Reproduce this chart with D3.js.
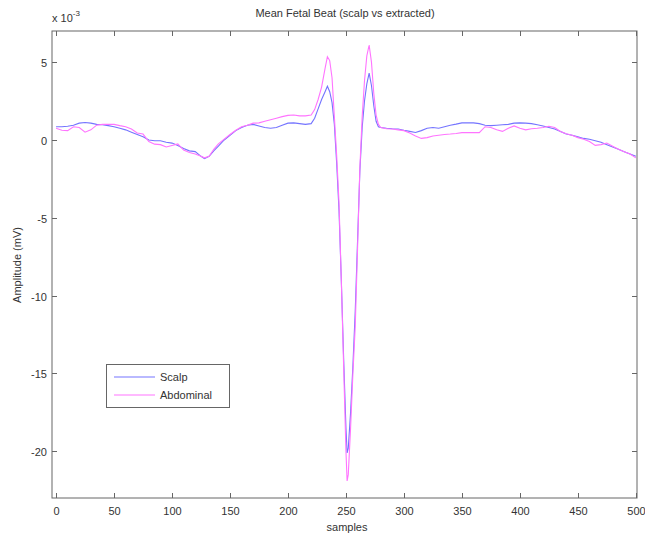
<!DOCTYPE html>
<html>
<head>
<meta charset="utf-8">
<script src="https://cdn.jsdelivr.net/npm/d3@7"></script>
<style>
  body { margin: 0; background: #fff; }
  text { font-family: "Liberation Sans", Arial, sans-serif; fill: #333; }
</style>
</head>
<body>
<svg id="viz" width="645" height="536"></svg>
<script>
// Mean fetal beat: scalp electrode vs extracted (abdominal) beat
// values are in units of 1e-3 mV

const samples = [0,5,10,15,20,25,30,35,40,45,50,55,60,65,70,75,80,85,90,95,
  100,105,110,115,120,125,128,132,136,140,145,150,155,160,165,170,175,180,185,190,
  195,200,205,210,215,220,223,226,229,232,234,236,238,240,242,244,246,248,250,251,
  252,254,256,258,260,262,264,266,268,270,272,274,276,278,280,285,290,295,300,305,
  310,315,320,325,330,335,340,345,350,355,360,365,370,375,380,385,390,395,400,405,
  410,415,420,425,430,435,440,445,450,455,460,465,470,475,480,485,490,495,500];

const scalp = [0.85,0.85,0.88,0.95,1.08,1.12,1.08,1.0,0.98,0.92,0.85,0.75,0.65,0.5,0.35,0.2,0.0,-0.05,-0.05,-0.15,
  -0.2,-0.35,-0.55,-0.7,-0.75,-1.05,-1.2,-1.05,-0.7,-0.4,0.0,0.3,0.6,0.8,0.95,1.0,0.9,0.8,0.75,0.8,
  0.95,1.08,1.1,1.05,1.0,1.05,1.4,2.0,2.6,3.1,3.45,3.1,2.4,1.0,-1.5,-4.5,-9.0,-14.0,-18.5,-20.1,
  -19.8,-17.5,-14.5,-11.0,-6.5,-2.0,0.8,2.5,3.6,4.3,3.5,2.2,1.2,0.85,0.8,0.75,0.72,0.7,0.62,0.55,
  0.48,0.6,0.75,0.8,0.75,0.85,0.95,1.02,1.1,1.1,1.1,1.05,0.95,0.92,0.95,0.98,1.0,1.08,1.1,1.08,
  1.05,0.98,0.9,0.8,0.7,0.55,0.38,0.3,0.2,0.1,0.05,-0.05,-0.15,-0.3,-0.45,-0.6,-0.75,-0.9,-1.05];

const abdominal = [0.75,0.62,0.6,0.85,0.8,0.5,0.65,0.95,1.0,1.0,1.0,0.92,0.85,0.7,0.45,0.38,-0.1,-0.27,-0.3,-0.45,
  -0.35,-0.25,-0.65,-0.8,-0.9,-1.05,-1.15,-1.05,-0.6,-0.25,0.05,0.35,0.62,0.85,0.95,1.08,1.1,1.2,1.3,1.4,
  1.5,1.58,1.6,1.55,1.55,1.6,1.95,2.6,3.4,4.6,5.35,5.1,4.0,1.5,-1.0,-4.0,-9.0,-14.5,-20.0,-21.9,
  -21.5,-18.5,-15.0,-12.0,-7.0,-1.8,1.5,3.8,5.4,6.1,5.0,3.0,1.6,1.0,0.8,0.72,0.7,0.65,0.6,0.45,
  0.25,0.1,0.15,0.25,0.3,0.35,0.38,0.42,0.47,0.47,0.47,0.47,0.85,0.8,0.65,0.55,0.75,0.9,0.75,0.65,
  0.72,0.75,0.8,0.88,0.8,0.55,0.4,0.3,0.15,0.05,-0.1,-0.35,-0.3,-0.2,-0.4,-0.6,-0.75,-0.9,-1.15];

const xTicks = [0,50,100,150,200,250,300,350,400,450,500];
const yTicks = [5,0,-5,-10,-15,-20];

const series = [
  { name: "Scalp", values: scalp, color: "#7474ff" },
  { name: "Abdominal", values: abdominal, color: "#ff74ff" }
];

const svg = d3.select("#viz");
const box = { left: 52, right: 637, top: 31, bottom: 498 };

const x = d3.scaleLinear().domain([-3.5, 501]).range([box.left, box.right]);
const y = d3.scaleLinear().domain([-23, 7]).range([box.bottom, box.top]);

const axisColor = "#666";
const tickLen = 5;

// plot frame
svg.append("rect")
  .attr("x", box.left).attr("y", box.top)
  .attr("width", box.right - box.left).attr("height", box.bottom - box.top)
  .attr("fill", "none").attr("stroke", axisColor).attr("stroke-width", 1);

// x ticks (inward, top and bottom)
const xg = svg.append("g");
xTicks.forEach(t => {
  const px = Math.round(x(t)) + 0.5;
  xg.append("line").attr("x1", px).attr("x2", px).attr("y1", box.bottom).attr("y2", box.bottom - tickLen).attr("stroke", axisColor);
  xg.append("line").attr("x1", px).attr("x2", px).attr("y1", box.top).attr("y2", box.top + tickLen).attr("stroke", axisColor);
  xg.append("text").attr("x", px).attr("y", 515).attr("text-anchor", "middle").attr("font-size", "11px").text(t);
});

// y ticks (inward, left and right)
const yg = svg.append("g");
yTicks.forEach(t => {
  const py = Math.round(y(t)) + 0.5;
  yg.append("line").attr("x1", box.left).attr("x2", box.left + tickLen).attr("y1", py).attr("y2", py).attr("stroke", axisColor);
  yg.append("line").attr("x1", box.right).attr("x2", box.right - tickLen).attr("y1", py).attr("y2", py).attr("stroke", axisColor);
  yg.append("text").attr("x", 47).attr("y", py + 4).attr("text-anchor", "end").attr("font-size", "11px").text(t);
});

// exponent label
const ex = svg.append("text").attr("x", 52).attr("y", 22).attr("font-size", "11px");
ex.append("tspan").text("x 10");
ex.append("tspan").attr("dy", -6).attr("font-size", "8px").text("-3");

// title and axis labels
svg.append("text").attr("x", 345).attr("y", 17).attr("text-anchor", "middle").attr("font-size", "11px")
  .text("Mean Fetal Beat (scalp vs extracted)");
svg.append("text").attr("x", 347).attr("y", 531).attr("text-anchor", "middle").attr("font-size", "11px")
  .text("samples");
svg.append("text").attr("transform", "translate(21,265) rotate(-90)").attr("text-anchor", "middle").attr("font-size", "11px")
  .text("Amplitude (mV)");

// curves
const line = d3.line()
  .x((d, i) => x(samples[i]))
  .y(d => y(d));

const linesG = svg.append("g");
series.forEach(s => {
  linesG.append("path")
    .datum(s.values)
    .attr("d", line)
    .attr("fill", "none")
    .attr("stroke", s.color)
    .attr("stroke-width", 1.1);
});

// legend
const lg = svg.append("g");
lg.append("rect").attr("x", 106.5).attr("y", 364.5).attr("width", 123).attr("height", 43)
  .attr("fill", "#fff").attr("stroke", axisColor);
series.forEach((s, i) => {
  const ly = 377 + i * 18;
  lg.append("line").attr("x1", 114).attr("x2", 155).attr("y1", ly).attr("y2", ly)
    .attr("stroke", s.color).attr("stroke-width", 1.1);
  lg.append("text").attr("x", 160).attr("y", ly + 4).attr("font-size", "11px").text(s.name);
});
</script>
</body>
</html>
